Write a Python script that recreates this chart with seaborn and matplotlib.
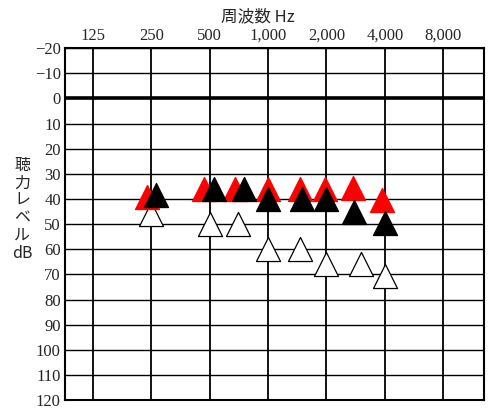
import numpy as np
import pandas as pd
import matplotlib
matplotlib.use("Agg")
import matplotlib.pyplot as plt
import seaborn as sns

freq_ticks = [125, 250, 500, 1000, 2000, 4000, 8000]
freq_labels = ["125", "250", "500", "1,000", "2,000", "4,000", "8,000"]
db_ticks = list(range(-20, 130, 10))
db_labels = ["\u221220", "\u221210"] + [str(v) for v in range(0, 130, 10)]

freqs = [250, 500, 750, 1000, 1500, 2000, 3000, 4000]
red_db = [39, 36, 36, 36, 36, 36, 35.5, 40.5]
black_db = [38.5, 36, 36, 40, 40, 40, 45, 49.5]
white_db = [46, 50, 50, 60, 60, 66, 66, 70.5]

# small horizontal shifts in octaves (drawing style only)
red_shift = [-0.07, -0.09, -0.15, 0, -0.03, -0.02, -0.13, -0.05]
black_shift = [0.08, 0.07, 0, 0, 0, 0, -0.12, 0]
white_shift = [0, 0, -0.1, 0, -0.03, 0, 0, 0]

sns.set_style("white")
plt.rcParams['font.family'] = ['Liberation Serif', 'Noto Sans CJK JP', 'DejaVu Sans']

fig = plt.figure(figsize=(5, 4.19), dpi=100)
ax = fig.add_axes([0.13, 0.045, 0.838, 0.84])

def oct_(f, s):
    return np.log2(np.array(f) / 125.0) + np.array(s)

for dbs, sh, fc in [(white_db, white_shift, "white"), (red_db, red_shift, "red"), (black_db, black_shift, "black")]:
    df = pd.DataFrame({"x": oct_(freqs, sh), "y": dbs})
    sns.scatterplot(data=df, x="x", y="y", ax=ax, marker="^", s=300,
                    color=fc, edgecolor="black" if fc != "red" else "red",
                    linewidth=0.9, zorder=3, legend=False)

ax.set_xlim(-0.48, 6.7)
ax.set_ylim(120, -20)
for i in range(len(freq_ticks)):
    ax.axvline(i, color="black", lw=1.3, zorder=1)
for v in db_ticks:
    ax.axhline(v, color="black", lw=2.6 if v == 0 else 1.0, zorder=1)

ax.set_yticks(db_ticks)
ax.set_yticklabels(db_labels, fontsize=12)
ax.xaxis.tick_top()
ax.set_xticks(range(len(freq_ticks)))
ax.set_xticklabels(freq_labels, fontsize=12)
ax.tick_params(length=0, pad=3)
ax.set_xlabel("")
ax.set_ylabel("")
for sp in ax.spines.values():
    sp.set_linewidth(1.5)
    sp.set_color("black")

fig.text(0.516, 0.96, "周波数 Hz", ha="center", va="center", fontsize=12,
         family=['Noto Sans CJK JP', 'DejaVu Sans'])
fig.text(0.044, 0.5, "聴\n力\nレ\nベ\nル\ndB", ha="center", va="center", fontsize=11.5,
         linespacing=1.05, family=['Noto Sans CJK JP', 'DejaVu Sans'])

fig.savefig("out.png", dpi=100)
